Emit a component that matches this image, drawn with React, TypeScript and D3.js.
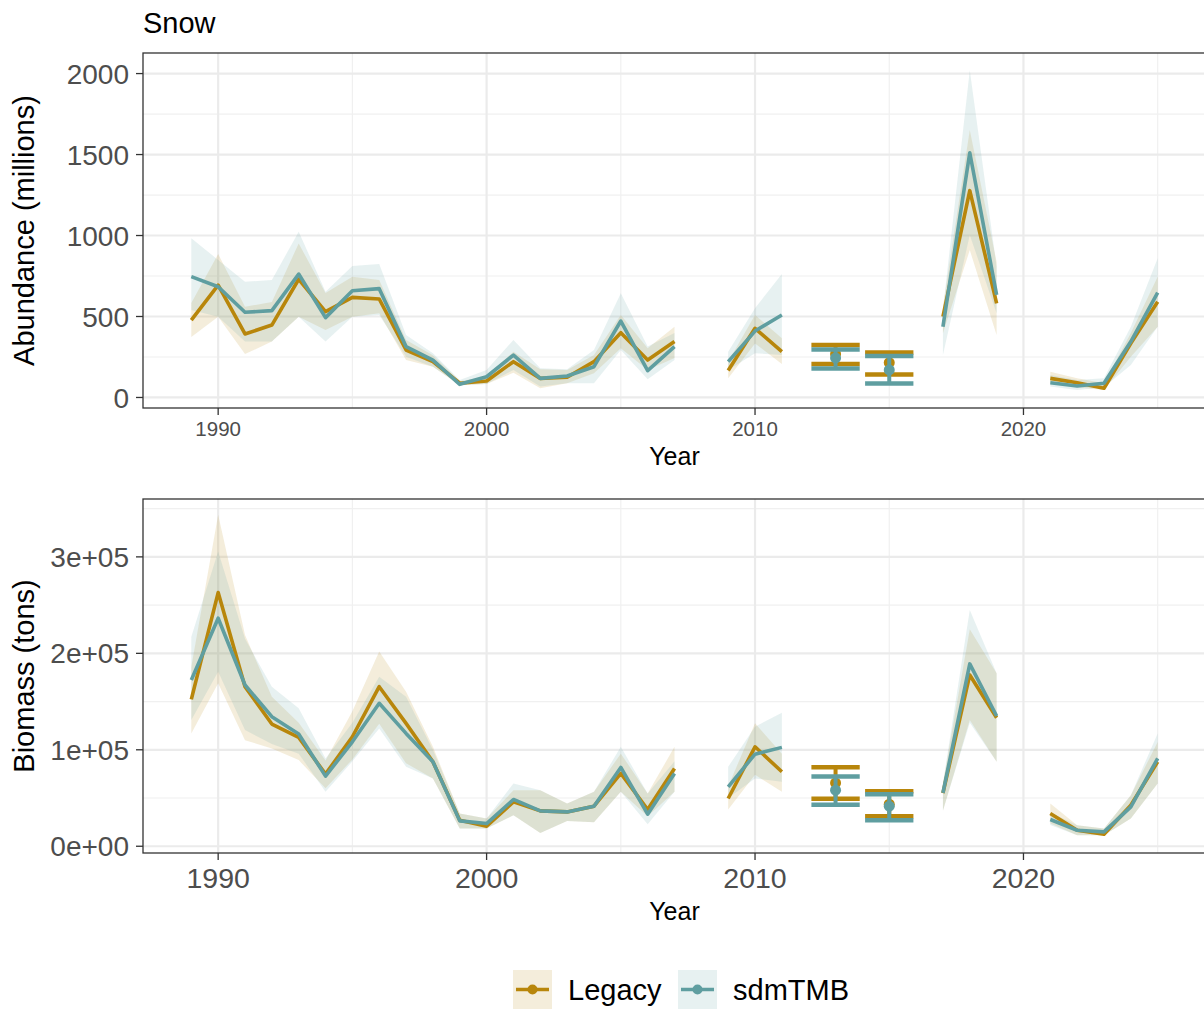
import React from "react";
import * as d3 from "d3";

// ---------- DATA ----------
const years = d3.range(1989, 2026);
const _ = null;

const abLegacy = [478,694,392,447,730,530,618,608,293,221,88,102,221,118,125,221,400,231,345,_,166,427,283,_,_,_,_,_,499,1277,581,_,118,91,57,334,591];
const abLegacyLo = [373,499,268,345,499,417,499,520,231,190,75,83,153,57,88,149,304,170,243,_,118,334,207,_,_,_,_,_,396,910,386,_,88,63,46,252,437];
const abLegacyHi = [583,886,560,590,951,645,746,725,355,260,100,130,283,174,170,262,509,304,437,_,221,509,365,_,_,_,_,_,560,1651,837,_,159,118,88,398,746];
const abSdm = [746,684,526,536,762,493,659,672,314,231,81,128,262,118,133,190,472,166,314,_,221,410,509,_,_,_,_,_,437,1511,633,_,91,71,88,345,647];
const abSdmLo = [540,499,345,345,499,345,499,510,252,190,75,83,170,67,88,88,293,112,231,_,170,273,262,_,_,_,_,_,262,1003,520,_,67,46,63,201,437];
const abSdmHi = [983,849,715,725,1024,653,812,824,386,273,108,170,355,180,174,293,643,314,398,_,283,551,762,_,_,_,_,_,540,2021,807,_,139,108,118,437,859];

const bmLegacy = [152300,263000,165400,126700,112800,74800,113500,165400,127400,87600,27000,20800,46000,36700,35600,41500,75500,38100,80700,_,49500,103100,77200,_,_,_,_,_,55000,177600,133200,_,33900,16600,12500,42600,87500];
const bmLegacyLo = [117000,169000,110000,101400,89300,60000,90000,127000,86000,70300,18400,18400,32200,13800,26300,25000,56400,31000,56400,_,38100,74000,56400,_,_,_,_,_,36700,130800,87500,_,23500,11400,11400,28700,65100];
const bmLegacyHi = [186000,343700,219000,155000,128000,89000,140000,201800,160200,103100,34000,28700,58000,58100,44300,56400,96000,54700,103100,_,62000,127400,96000,_,_,_,_,_,65100,225000,179300,_,44300,21800,18400,53000,108000];
const bmSdm = [172400,236400,167200,134300,116300,72700,108300,148200,117000,87600,26300,23500,48500,36700,35600,41500,81700,33200,75500,_,61600,95500,102500,_,_,_,_,_,55400,189000,135000,_,27700,16600,14900,40800,91000];
const bmSdmLo = [130800,181000,120400,106000,96000,56400,88000,122200,82400,70300,18400,18400,32200,13800,26300,25000,56400,22800,56400,_,50000,70300,66800,_,_,_,_,_,36700,128000,87500,_,22000,11400,11400,28700,65100];
const bmSdmHi = [217300,305600,215000,165400,143000,91000,128000,175800,155000,100000,34000,28700,65100,58100,44300,56400,103100,54700,88000,_,82400,124000,138400,_,_,_,_,_,65100,245000,179300,_,35000,21800,18400,53000,117000];

// error bar years (single surveys)
const ebYears = [2013, 2015];
const abEbLegacy = [269, 215];
const abEbLegacyLo = [207, 142];
const abEbLegacyHi = [324, 278];
const abEbSdm = [244, 170];
const abEbSdmLo = [179, 86];
const abEbSdmHi = [296, 256];
const bmEbLegacy = [65700, 43600];
const bmEbLegacyLo = [49300, 31200];
const bmEbLegacyHi = [82000, 57100];
const bmEbSdm = [58100, 41500];
const bmEbSdmLo = [43100, 27000];
const bmEbSdmHi = [72200, 54000];

const xMajor = [1990, 2000, 2010, 2020];
const xMinor = [1995, 2005, 2015, 2025];
const abTicks = [0, 500, 1000, 1500, 2000];
const abMinor = [250, 750, 1250, 1750];
const bmTicks = [0, 100000, 200000, 300000];
const bmMinor = [50000, 150000, 250000, 350000];

const seriesNames = ["Legacy", "sdmTMB"];
const colors = ["#B8860B", "#5F9EA0"];

// ---------- LAYOUT ----------
const W = 1204, H = 1011;
const left = 143, right = 1206;
const FONT = "'Liberation Sans', Arial, Helvetica, sans-serif";

const x = d3.scaleLinear().domain([1987.2, 2026.8]).range([left, right]);

function sci(v: number) {
  if (v === 0) return "0e+00";
  const e = Math.floor(Math.log10(v));
  const m = Math.round(v / Math.pow(10, e));
  return `${m}e+${String(e).padStart(2, "0")}`;
}

type Series = { est: (number | null)[]; lo: (number | null)[]; hi: (number | null)[] };
type EB = { est: number[]; lo: number[]; hi: number[] };

function Panel(props: {
  id: string;
  top: number;
  bottom: number;
  yDomain: [number, number];
  ticks: number[];
  minor: number[];
  fmt: (v: number) => string;
  series: Series[];
  ebs: EB[];
  xTickSize: number;
  xTickBase: number;
  xTitleBase: number;
  yTitle: string;
}) {
  const { top, bottom, series, ebs } = props;
  const y = d3.scaleLinear().domain(props.yDomain).range([bottom, top]);
  const idx = d3.range(years.length);
  const mkArea = (s: Series) =>
    d3
      .area<number>()
      .defined((i) => s.lo[i] !== null)
      .x((i) => x(years[i]))
      .y0((i) => y(s.lo[i] as number))
      .y1((i) => y(s.hi[i] as number))(idx) || "";
  const mkLine = (s: Series) =>
    d3
      .line<number>()
      .defined((i) => s.est[i] !== null)
      .x((i) => x(years[i]))
      .y((i) => y(s.est[i] as number))(idx) || "";
  const clip = `clip-${props.id}`;
  return (
    <g>
      <defs>
        <clipPath id={clip}>
          <rect x={left} y={top} width={right - left} height={bottom - top} />
        </clipPath>
      </defs>
      <rect x={left} y={top} width={right - left} height={bottom - top} fill="#fff" />
      {/* grid */}
      {props.minor.map((v) => (
        <line key={"hm" + v} x1={left} x2={right} y1={y(v)} y2={y(v)} stroke="#f0f0f0" strokeWidth={1.2} clipPath={`url(#${clip})`} />
      ))}
      {xMinor.map((v) => (
        <line key={"vm" + v} x1={x(v)} x2={x(v)} y1={top} y2={bottom} stroke="#f0f0f0" strokeWidth={1.2} />
      ))}
      {props.ticks.map((v) => (
        <line key={"hM" + v} x1={left} x2={right} y1={y(v)} y2={y(v)} stroke="#ebebeb" strokeWidth={2.2} />
      ))}
      {xMajor.map((v) => (
        <line key={"vM" + v} x1={x(v)} x2={x(v)} y1={top} y2={bottom} stroke="#ebebeb" strokeWidth={2.2} />
      ))}
      <g clipPath={`url(#${clip})`}>
        {series.map((s, k) => (
          <path key={"r" + k} d={mkArea(s)} fill={colors[k]} fillOpacity={0.15} stroke="none" />
        ))}
        {series.map((s, k) => (
          <path key={"l" + k} d={mkLine(s)} fill="none" stroke={colors[k]} strokeWidth={3.6} strokeLinejoin="round" />
        ))}
        {ebs.map((e, k) => (
          <g key={"eb" + k}>
            {ebYears.map((yr, j) => (
              <g key={yr}>
                <line x1={x(yr)} x2={x(yr)} y1={y(e.lo[j])} y2={y(e.hi[j])} stroke={colors[k]} strokeWidth={4} />
                <line x1={x(yr - 0.9)} x2={x(yr + 0.9)} y1={y(e.lo[j])} y2={y(e.lo[j])} stroke={colors[k]} strokeWidth={4.5} />
                <line x1={x(yr - 0.9)} x2={x(yr + 0.9)} y1={y(e.hi[j])} y2={y(e.hi[j])} stroke={colors[k]} strokeWidth={4.5} />
                <circle cx={x(yr)} cy={y(e.est[j])} r={5.5} fill={colors[k]} />
              </g>
            ))}
          </g>
        ))}
      </g>
      <rect x={left} y={top} width={right - left} height={bottom - top} fill="none" stroke="#333" strokeWidth={1.3} />
      {/* y axis */}
      {props.ticks.map((v) => (
        <g key={"yt" + v}>
          <line x1={left - 7} x2={left} y1={y(v)} y2={y(v)} stroke="#333" strokeWidth={1.3} />
          <text x={left - 14} y={y(v)} dy="0.36em" textAnchor="end" fontSize={28} fill="#4d4d4d" fontFamily={FONT}>
            {props.fmt(v)}
          </text>
        </g>
      ))}
      {/* x axis */}
      {xMajor.map((v) => (
        <g key={"xt" + v}>
          <line x1={x(v)} x2={x(v)} y1={bottom} y2={bottom + 7} stroke="#333" strokeWidth={1.3} />
          <text x={x(v)} y={props.xTickBase} textAnchor="middle" fontSize={props.xTickSize} fill="#4d4d4d" fontFamily={FONT}>
            {v}
          </text>
        </g>
      ))}
      <text x={(left + right) / 2} y={props.xTitleBase} textAnchor="middle" fontSize={25} fill="#000" fontFamily={FONT}>
        Year
      </text>
      <text
        transform={`translate(34, ${(top + bottom) / 2}) rotate(-90)`}
        textAnchor="middle"
        fontSize={29}
        fill="#000"
        fontFamily={FONT}
      >
        {props.yTitle}
      </text>
    </g>
  );
}

export default function App() {
  const abSeries: Series[] = [
    { est: abLegacy, lo: abLegacyLo, hi: abLegacyHi },
    { est: abSdm, lo: abSdmLo, hi: abSdmHi },
  ];
  const bmSeries: Series[] = [
    { est: bmLegacy, lo: bmLegacyLo, hi: bmLegacyHi },
    { est: bmSdm, lo: bmSdmLo, hi: bmSdmHi },
  ];
  const abEb: EB[] = [
    { est: abEbLegacy, lo: abEbLegacyLo, hi: abEbLegacyHi },
    { est: abEbSdm, lo: abEbSdmLo, hi: abEbSdmHi },
  ];
  const bmEb: EB[] = [
    { est: bmEbLegacy, lo: bmEbLegacyLo, hi: bmEbLegacyHi },
    { est: bmEbSdm, lo: bmEbSdmLo, hi: bmEbSdmHi },
  ];
  const legendX = [513, 678];
  const legendTextX = [568, 733];
  return (
    <svg width={W} height={H} style={{ position: "absolute", left: 0, top: 0, background: "#fff" }}>
      <rect width={W} height={H} fill="#fff" />
      <text x={143} y={33} fontSize={29} fontFamily={FONT} fill="#000">
        Snow
      </text>
      <Panel
        id="ab"
        top={53}
        bottom={408}
        yDomain={[-65, 2127]}
        ticks={abTicks}
        minor={abMinor}
        fmt={(v) => String(v)}
        series={abSeries}
        ebs={abEb}
        xTickSize={20.5}
        xTickBase={436}
        xTitleBase={465}
        yTitle="Abundance (millions)"
      />
      <Panel
        id="bm"
        top={499}
        bottom={853}
        yDomain={[-7000, 360000]}
        ticks={bmTicks}
        minor={bmMinor}
        fmt={sci}
        series={bmSeries}
        ebs={bmEb}
        xTickSize={28.5}
        xTickBase={888}
        xTitleBase={920}
        yTitle="Biomass (tons)"
      />
      {seriesNames.map((name, k) => (
        <g key={name}>
          <rect x={legendX[k]} y={970} width={39} height={39} fill={colors[k]} fillOpacity={0.15} />
          <line x1={legendX[k] + 3} x2={legendX[k] + 36} y1={989.5} y2={989.5} stroke={colors[k]} strokeWidth={3.6} />
          <circle cx={legendX[k] + 19.5} cy={989.5} r={5} fill={colors[k]} />
          <text x={legendTextX[k]} y={1000} fontSize={29} fontFamily={FONT} fill="#000">
            {name}
          </text>
        </g>
      ))}
    </svg>
  );
}
